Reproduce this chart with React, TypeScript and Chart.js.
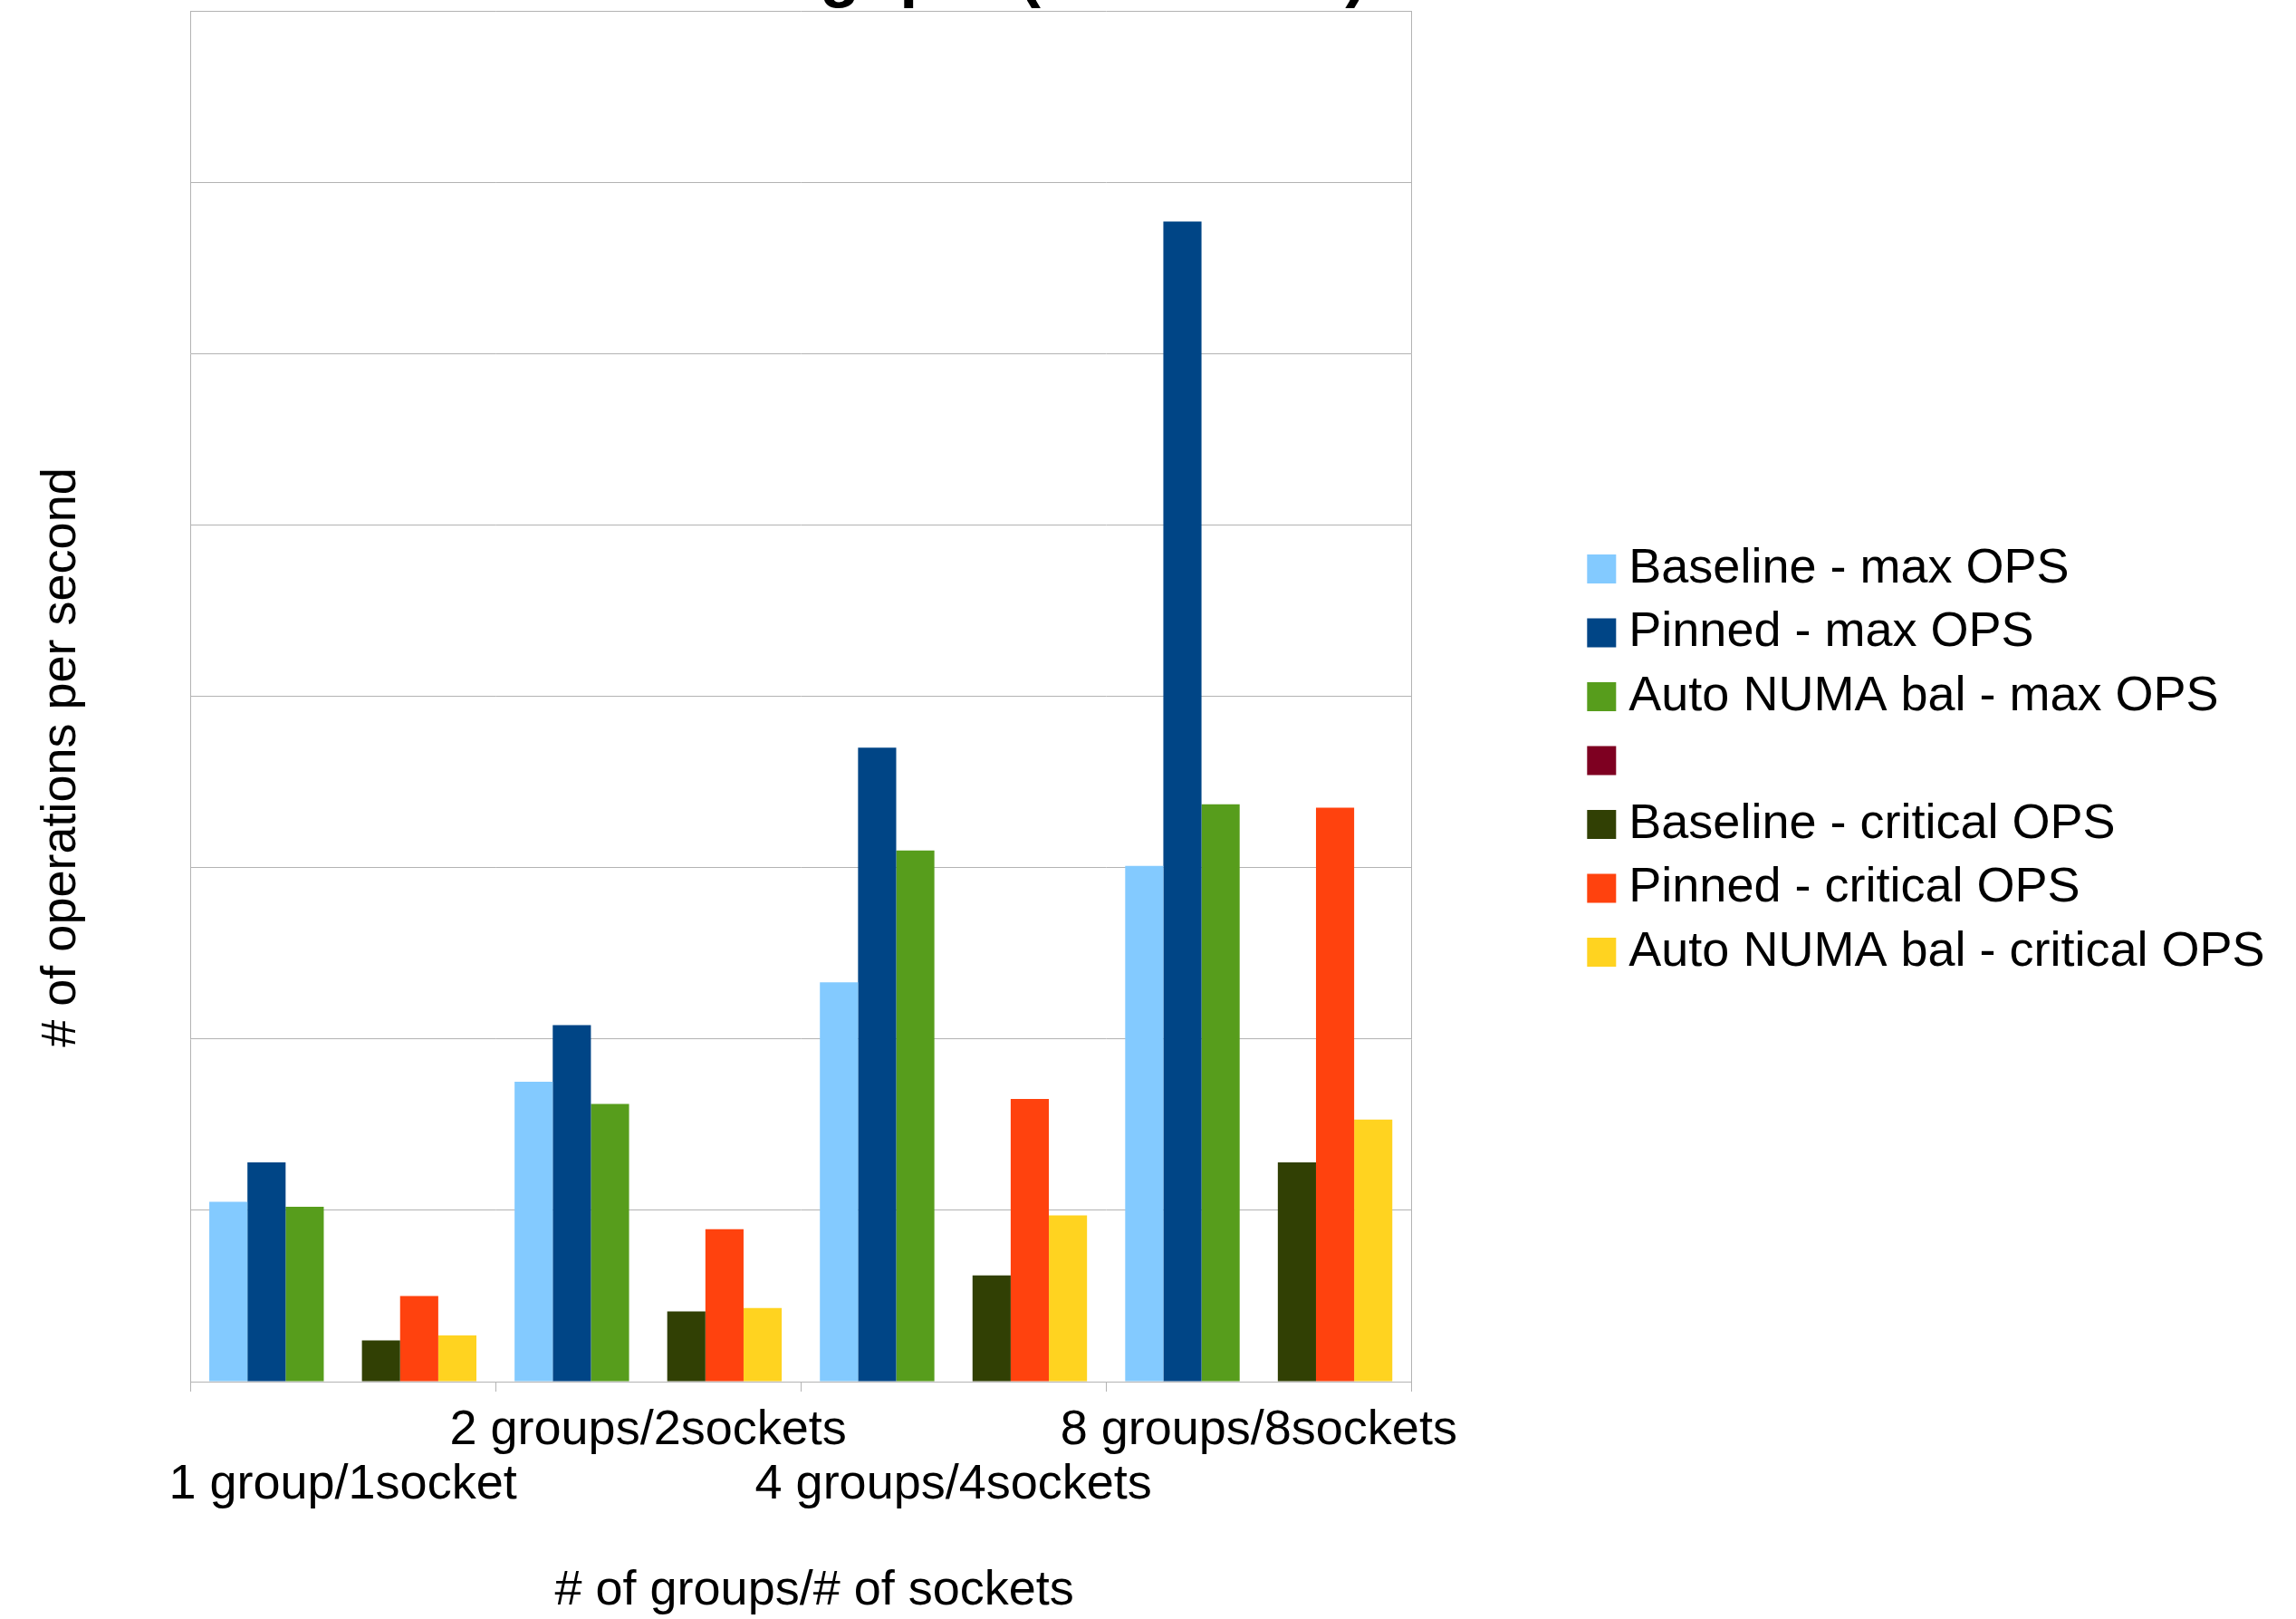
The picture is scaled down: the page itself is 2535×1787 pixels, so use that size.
import React, { useEffect, useRef } from 'react';
import { Chart, registerables } from 'chart.js';

Chart.register(...registerables);

// ---- data ----
const categories = ['1 group/1socket', '2 groups/2sockets', '4 groups/4sockets', '8 groups/8sockets'];
const seriesNames = [
  'Baseline - max OPS',
  'Pinned - max OPS',
  'Auto NUMA bal - max OPS',
  '',
  'Baseline - critical OPS',
  'Pinned - critical OPS',
  'Auto NUMA bal - critical OPS',
];
const baselineMax = [1.05, 1.75, 2.33, 3.01];
const pinnedMax = [1.28, 2.08, 3.70, 6.77];
const autoNumaMax = [1.02, 1.62, 3.10, 3.37];
const emptySeries: (number | null)[] = [null, null, null, null];
const baselineCritical = [0.24, 0.41, 0.62, 1.28];
const pinnedCritical = [0.50, 0.89, 1.65, 3.35];
const autoNumaCritical = [0.27, 0.43, 0.97, 1.53];
const yMin = 0;
const yMax = 8;
const yStep = 1;

const titleText = 'Throughput (8 Sockets)';
const xTitle = '# of groups/# of sockets';
const yTitle = '# of operations per second';

const colors = ['#83caff', '#004586', '#579d1c', '#7e0021', '#314004', '#ff420e', '#ffd320'];

const FONT = "'Liberation Sans', Arial, sans-serif";
const GRID = '#b3b3b3';
const SHIFT = 100;

export default function App() {
  const canvasRef = useRef<HTMLCanvasElement | null>(null);

  useEffect(() => {
    document.body.style.overflow = 'hidden';
    const canvas = canvasRef.current;
    if (!canvas) return;
    const seriesData = [baselineMax, pinnedMax, autoNumaMax, emptySeries, baselineCritical, pinnedCritical, autoNumaCritical];
    const chart = new Chart(canvas, {
      type: 'bar',
      data: {
        labels: categories,
        datasets: seriesData.map((d, i) => ({
          label: seriesNames[i],
          data: d,
          backgroundColor: colors[i],
          borderWidth: 0,
          categoryPercentage: 0.875,
          barPercentage: 1.0,
        })),
      },
      options: {
        animation: false,
        responsive: true,
        maintainAspectRatio: false,
        devicePixelRatio: 1,
        layout: { padding: { top: 0, left: 0, right: 24.5, bottom: 8 } },
        plugins: {
          tooltip: { enabled: false },
          title: {
            display: true,
            text: titleText + '\u00a0'.repeat(15),
            color: '#000',
            font: { family: FONT, size: 72, weight: 'bold', lineHeight: 1 },
            padding: { top: 38, bottom: 2 },
          },
          legend: {
            position: 'right',
            align: 'center',
            maxWidth: 1000,
            labels: {
              color: '#000',
              font: { family: FONT, size: 54 },
              usePointStyle: true,
              pointStyle: 'rect',
              boxWidth: 6,
              boxHeight: 32,
              padding: 16.5,
            },
          },
        },
        scales: {
          x: {
            type: 'category',
            offset: true,
            grid: {
              display: true,
              drawOnChartArea: false,
              drawTicks: true,
              tickLength: 11,
              color: GRID,
              offset: true,
            },
            border: { display: true, color: GRID, width: 1 },
            ticks: {
              color: '#000',
              font: { family: FONT, size: 54, lineHeight: 60 / 54 },
              padding: 13.5,
              maxRotation: 0,
              minRotation: 0,
              autoSkip: false,
              callback: function (this: any, _v: any, index: number) {
                const label = categories[index];
                return index % 2 === 0 ? ['', label] : [label, ''];
              },
            },
            title: {
              display: true,
              text: '\u00a0\u00a0' + xTitle,
              color: '#000',
              font: { family: FONT, size: 54, lineHeight: 1.2 },
              padding: { top: 41.1, bottom: -9.9 },
            },
          },
          y: {
            type: 'linear',
            position: 'left',
            min: yMin,
            max: yMax,
            ticks: { display: false, stepSize: yStep },
            grid: { color: GRID, drawTicks: false, tickLength: 0 },
            border: { display: true, color: GRID, width: 1 },
            title: {
              display: true,
              text: yTitle + '\u00a0'.repeat(9),
              color: '#000',
              font: { family: FONT, size: 54, lineHeight: 1.2 },
              padding: { top: 35.6, bottom: 0 },
            },
            afterFit: (scale: any) => {
              scale.width = 210;
            },
          },
          yRight: {
            type: 'linear',
            position: 'right',
            display: true,
            min: yMin,
            max: yMax,
            ticks: { display: false },
            grid: { display: false, drawTicks: false },
            border: { display: true, color: GRID, width: 1 },
            afterFit: (scale: any) => {
              scale.width = 190.5;
            },
          },
        },
      },
    } as any);
    return () => chart.destroy();
  }, []);

  return (
    <div style={{ position: 'absolute', left: 0, top: -SHIFT, width: 2535, height: 1787 + SHIFT, background: '#fff' }}>
      <canvas ref={canvasRef} />
    </div>
  );
}
